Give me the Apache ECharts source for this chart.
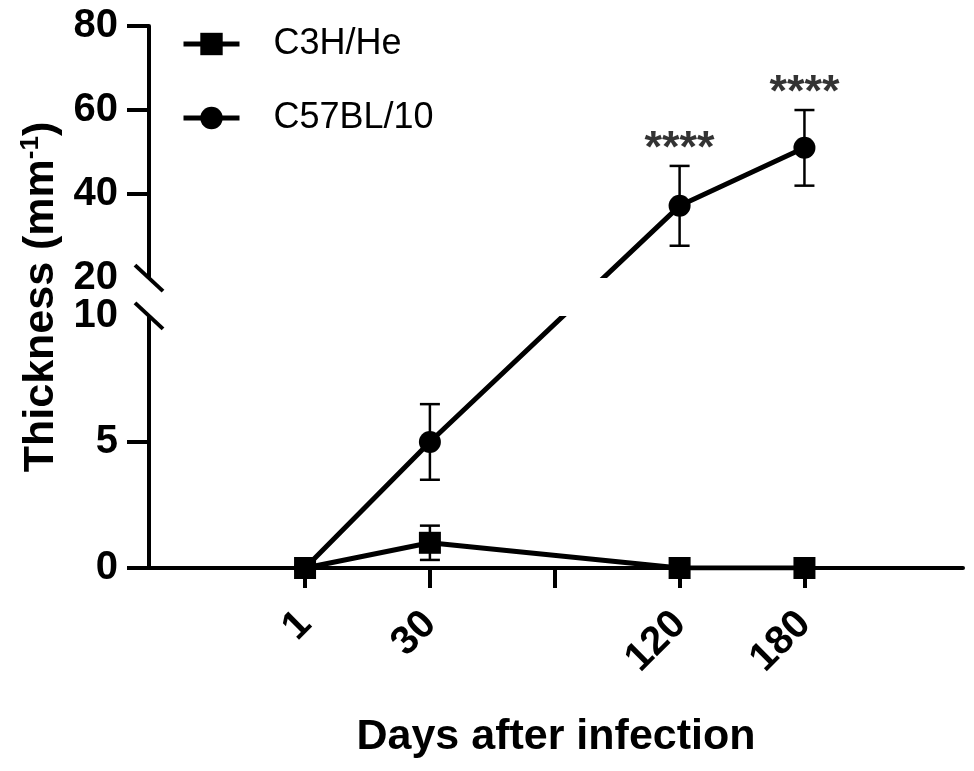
<!DOCTYPE html>
<html>
<head>
<meta charset="utf-8">
<script src="https://cdn.jsdelivr.net/npm/echarts@6/dist/echarts.min.js"></script>
<style>
  html, body { margin: 0; padding: 0; background: #fff; }
  #chart { width: 974px; height: 771px; }
</style>
</head>
<body>
<div id="chart"></div>
<script>
// x positions are the tick slots; the third slot has a tick but no label
const dayTicks = ['1', '30', '', '120', '180'];
const days = [1, 30, 120, 180];
const c3hMean = [0, 1.0, 0, 0];
const c3hErr = [0, 0.68, 0, 0];
const c57Mean = [0, 5.0, 37.2, 51.0];
const c57Err = [0, 1.5, 9.5, 9.0];
const stars = ['', '', '****', '****'];
const yLabelValues = [0, 5, 10, 20, 40, 60, 80];
const yTickValues = [0, 5, 40, 60, 80];

// broken y axis: 0-10 full scale, gap, then 20-80 squeezed 6x
const BREAK_LO = 10, BREAK_HI = 20, GAP = 1.5, SQUEEZE = 6;
function toAxis(v) {
  return v <= BREAK_LO ? v : BREAK_LO + GAP + (v - BREAK_HI) / SQUEEZE;
}
function fromAxis(d) {
  return d <= BREAK_LO + GAP / 2 ? d : BREAK_HI + (d - BREAK_LO - GAP) * SQUEEZE;
}
function slot(day) {
  return dayTicks.indexOf(String(day));
}

const X_MIN = -1.25, X_MAX = 5.27;
const FONT = '"Liberation Sans", Arial, sans-serif';

function lineSeries(name, mean, symbol, z) {
  return {
    name: name,
    type: 'line',
    z: z,
    data: days.map((d, i) => [slot(d), toAxis(mean[i])]),
    symbol: symbol,
    symbolSize: 22,
    lineStyle: { color: '#000', width: 5 },
    itemStyle: { color: '#000' }
  };
}

function errorSeries(mean, err) {
  return {
    type: 'custom',
    z: 1,
    silent: true,
    data: days.map((d, i) => [slot(d), toAxis(mean[i] + err[i]), toAxis(mean[i] - err[i]), err[i]]),
    encode: { x: 0, y: [1, 2] },
    renderItem: function (params, api) {
      if (!api.value(3)) return null;
      const top = api.coord([api.value(0), api.value(1)]);
      const bot = api.coord([api.value(0), api.value(2)]);
      const w = 10;
      const style = { stroke: '#000', lineWidth: 2.5 };
      return {
        type: 'group',
        children: [
          { type: 'line', shape: { x1: top[0], y1: top[1], x2: bot[0], y2: bot[1] }, style: style },
          { type: 'line', shape: { x1: top[0] - w, y1: top[1], x2: top[0] + w, y2: top[1] }, style: style },
          { type: 'line', shape: { x1: bot[0] - w, y1: bot[1], x2: bot[0] + w, y2: bot[1] }, style: style }
        ]
      };
    }
  };
}

const option = {
  animation: false,
  backgroundColor: '#fff',
  grid: {
    left: 149,
    right: 11,
    top: 26,
    bottom: 203,
    outerBoundsMode: 'none'
  },
  legend: {
    data: ['C3H/He', 'C57BL/10'],
    orient: 'vertical',
    left: 176,
    top: 21,
    itemWidth: 56,
    itemHeight: 28,
    itemGap: 38,
    selectedMode: false,
    lineStyle: { width: 5 },
    textStyle: {
      color: '#000',
      fontSize: 36,
      lineHeight: 36,
      fontFamily: FONT,
      padding: [0, 0, 0, 29]
    }
  },
  xAxis: {
    type: 'value',
    min: X_MIN,
    max: X_MAX,
    splitLine: { show: false },
    axisLine: { onZero: false, lineStyle: { color: '#000', width: 4 } },
    axisTick: {
      length: 20,
      lineStyle: { color: '#000', width: 4 },
      customValues: dayTicks.map((t, i) => i)
    },
    axisLabel: {
      customValues: dayTicks.map((t, i) => i).filter(i => dayTicks[i] !== ''),
      formatter: v => dayTicks[Math.round(v)],
      rotate: 45,
      margin: 50,
      color: '#000',
      fontSize: 40,
      fontWeight: 'bold',
      fontFamily: FONT
    },
    name: 'Days after infection',
    nameLocation: 'middle',
    nameGap: 148,
    nameTextStyle: { color: '#000', fontSize: 43, fontWeight: 'bold', fontFamily: FONT }
  },
  yAxis: {
    type: 'value',
    min: 0,
    max: toAxis(80),
    splitLine: { show: false },
    axisLine: { show: true, onZero: false, lineStyle: { color: '#000', width: 4 } },
    axisTick: {
      show: true,
      length: 22,
      lineStyle: { color: '#000', width: 4 },
      customValues: yTickValues.map(toAxis)
    },
    axisLabel: {
      customValues: yLabelValues.map(toAxis),
      formatter: v => String(Math.round(fromAxis(v))),
      margin: 31,
      color: '#000',
      fontSize: 40,
      fontWeight: 'bold',
      fontFamily: FONT
    },
    name: '{a|Thickness (mm}{s|-1}{a|)}',
    nameLocation: 'middle',
    nameRotate: 90,
    nameGap: 84,
    nameTextStyle: {
      rich: {
        a: { color: '#000', fontSize: 43, fontWeight: 'bold', fontFamily: FONT, lineHeight: 46 },
        s: { color: '#000', fontSize: 26, fontWeight: 'bold', fontFamily: FONT, lineHeight: 26, verticalAlign: 'top' }
      }
    }
  },
  series: [
    errorSeries(c3hMean, c3hErr),
    errorSeries(c57Mean, c57Err),
    lineSeries('C57BL/10', c57Mean, 'circle', 3),
    lineSeries('C3H/He', c3hMean, 'rect', 4),
    {
      type: 'scatter',
      silent: true,
      symbolSize: 0,
      data: days.map((d, i) => [slot(d), toAxis(c57Mean[i] + c57Err[i]), stars[i]]),
      label: {
        show: true,
        position: 'top',
        distance: -6,
        formatter: p => p.data[2],
        color: '#000',
        fontSize: 45,
        fontWeight: 'bold',
        fontFamily: FONT
      }
    },
    {
      // white band + double slash for the axis break
      type: 'custom',
      z: 10,
      silent: true,
      clip: false,
      data: [[X_MIN, BREAK_LO, BREAK_LO + GAP]],
      encode: { x: 0, y: [1, 2] },
      renderItem: function (params, api) {
        const lo = api.coord([api.value(0), api.value(1)]);
        const hi = api.coord([api.value(0), api.value(2)]);
        const right = params.coordSys.x + params.coordSys.width;
        const slash = (y) => ({
          type: 'line',
          shape: { x1: lo[0] - 14, y1: y - 13, x2: lo[0] + 14, y2: y + 13 },
          style: { stroke: '#000', lineWidth: 4 }
        });
        return {
          type: 'group',
          children: [
            {
              type: 'rect',
              shape: { x: lo[0] - 4, y: hi[1], width: right - lo[0] + 8, height: lo[1] - hi[1] },
              style: { fill: '#fff' }
            },
            slash(lo[1]),
            slash(hi[1])
          ]
        };
      }
    }
  ]
};

const myChart = echarts.init(document.getElementById('chart'));
myChart.setOption(option);
</script>
</body>
</html>
